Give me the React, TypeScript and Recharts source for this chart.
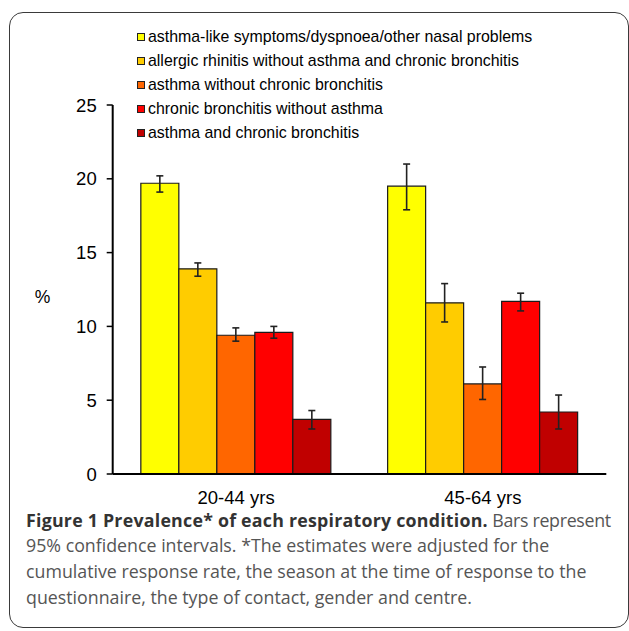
import React from 'react';
import { BarChart, Bar, XAxis, YAxis, ErrorBar } from 'recharts';

const categories = ['20-44 yrs', '45-64 yrs'];
const seriesKeys = ['asthmaLike', 'rhinitis', 'asthmaOnly', 'bronchitisOnly', 'asthmaBronchitis'];
const seriesNames = [
  'asthma-like symptoms/dyspnoea/other nasal problems',
  'allergic rhinitis without asthma and chronic bronchitis',
  'asthma without chronic bronchitis',
  'chronic bronchitis without asthma',
  'asthma and chronic bronchitis',
];
const seriesColors = ['#FFFF00', '#FFCC00', '#FF6600', '#FF0000', '#C00000'];

const asthmaLike = [19.7, 19.5];
const asthmaLikeLow = [19.1, 17.9];
const asthmaLikeHigh = [20.2, 21.0];

const rhinitis = [13.9, 11.6];
const rhinitisLow = [13.4, 10.3];
const rhinitisHigh = [14.3, 12.9];

const asthmaOnly = [9.4, 6.1];
const asthmaOnlyLow = [9.0, 5.05];
const asthmaOnlyHigh = [9.9, 7.25];

const bronchitisOnly = [9.6, 11.7];
const bronchitisOnlyLow = [9.2, 11.05];
const bronchitisOnlyHigh = [10.0, 12.25];

const asthmaBronchitis = [3.7, 4.2];
const asthmaBronchitisLow = [3.05, 3.05];
const asthmaBronchitisHigh = [4.3, 5.35];

const yTicks = [0, 5, 10, 15, 20, 25];
const edgeTicks = [0, 1, 2];

const captionBold = 'Figure 1 Prevalence* of each respiratory condition.';
const captionLines = [
  ' Bars represent',
  '95% confidence intervals. *The estimates were adjusted for the',
  'cumulative response rate, the season at the time of response to the',
  'questionnaire, the type of contact, gender and centre.',
];

const values = [asthmaLike, rhinitis, asthmaOnly, bronchitisOnly, asthmaBronchitis];
const lows = [asthmaLikeLow, rhinitisLow, asthmaOnlyLow, bronchitisOnlyLow, asthmaBronchitisLow];
const highs = [asthmaLikeHigh, rhinitisHigh, asthmaOnlyHigh, bronchitisOnlyHigh, asthmaBronchitisHigh];

const data = categories.map((cat, i) => {
  const row: any = { cat };
  seriesKeys.forEach((k, j) => {
    row[k] = values[j][i];
    row[k + 'Err'] = [values[j][i] - lows[j][i], highs[j][i] - values[j][i]];
  });
  return row;
});

const axisFont = '"Liberation Sans", Arial, Helvetica, sans-serif';

export default function App() {
  return (
    <div style={{ position: 'absolute', left: 0, top: 0, width: 629, height: 631, background: '#fff', overflow: 'hidden' }}>
      <div
        style={{
          position: 'absolute',
          left: 8.5,
          top: 12,
          width: 620,
          height: 616,
          border: '1.3px solid #3a3a3a',
          borderRadius: 14,
          boxSizing: 'border-box',
        }}
      />
      <div style={{ position: 'absolute', left: 0, top: 0 }}>
        <BarChart
          width={629}
          height={520}
          data={data}
          margin={{ top: 105, right: 22.7, left: 12.7, bottom: 15 }}
          barGap={0}
          barCategoryGap="11.4%"
        >
          <XAxis xAxisId="aEdge" type="number" domain={[0, 2]} ticks={edgeTicks} height={1} tick={false} tickSize={5} axisLine={{ stroke: '#000', strokeWidth: 2 }} tickLine={{ stroke: '#000', strokeWidth: 1.5 }} />
          <XAxis xAxisId="bCat" dataKey="cat" height={30} axisLine={false} tickLine={false} tickMargin={10} tick={{ fill: '#000', fontSize: 18.5, fontFamily: axisFont }} />
          <YAxis
            domain={[0, 25]}
            ticks={yTicks}
            width={100}
            tickSize={6}
            tickMargin={10}
            axisLine={{ stroke: '#000', strokeWidth: 2 }}
            tickLine={{ stroke: '#000', strokeWidth: 1.5 }}
            tick={{ fill: '#000', fontSize: 18.5, fontFamily: axisFont }}
            label={{ value: '%', position: 'insideLeft', offset: 22, dy: 7, fill: '#000', fontSize: 17.5, fontFamily: axisFont }}
          />
          {seriesKeys.map((k, j) => (
            <Bar key={k} xAxisId="bCat" dataKey={k} name={seriesNames[j]} fill={seriesColors[j]} stroke="#1a1a1a" strokeWidth={1.2} isAnimationActive={false}>
              <ErrorBar dataKey={k + 'Err'} width={3.5} stroke="#222" strokeWidth={1.6} />
            </Bar>
          ))}
        </BarChart>
      </div>
      <div style={{ position: 'absolute', left: 136.5, top: 25, fontFamily: axisFont, fontSize: 15.9, color: '#000' }}>
        {seriesNames.map((n, i) => (
          <div key={n} style={{ display: 'flex', alignItems: 'center', height: 24, whiteSpace: 'nowrap' }}>
            <span
              style={{
                display: 'inline-block',
                width: 8,
                height: 8,
                background: seriesColors[i],
                border: '1px solid #222',
                boxSizing: 'border-box',
                marginRight: 3.5,
              }}
            />
            <span>{n}</span>
          </div>
        ))}
      </div>
      <div
        style={{
          position: 'absolute',
          left: 26,
          top: 509.5,
          fontFamily: '"Open Sans", Lato, sans-serif',
          fontSize: 17.8,
          lineHeight: '21px',
          color: '#555',
          whiteSpace: 'nowrap',
        }}
      >
        <div style={{ marginBottom: 4.7 }}>
          <span style={{ fontWeight: 700, color: '#333', letterSpacing: 0.23 }}>{captionBold}</span>
          <span style={{ letterSpacing: -0.3 }}>{captionLines[0]}</span>
        </div>
        {captionLines.slice(1).map((l) => (
          <div key={l} style={{ marginBottom: 4.7 }}>{l}</div>
        ))}
      </div>
    </div>
  );
}
